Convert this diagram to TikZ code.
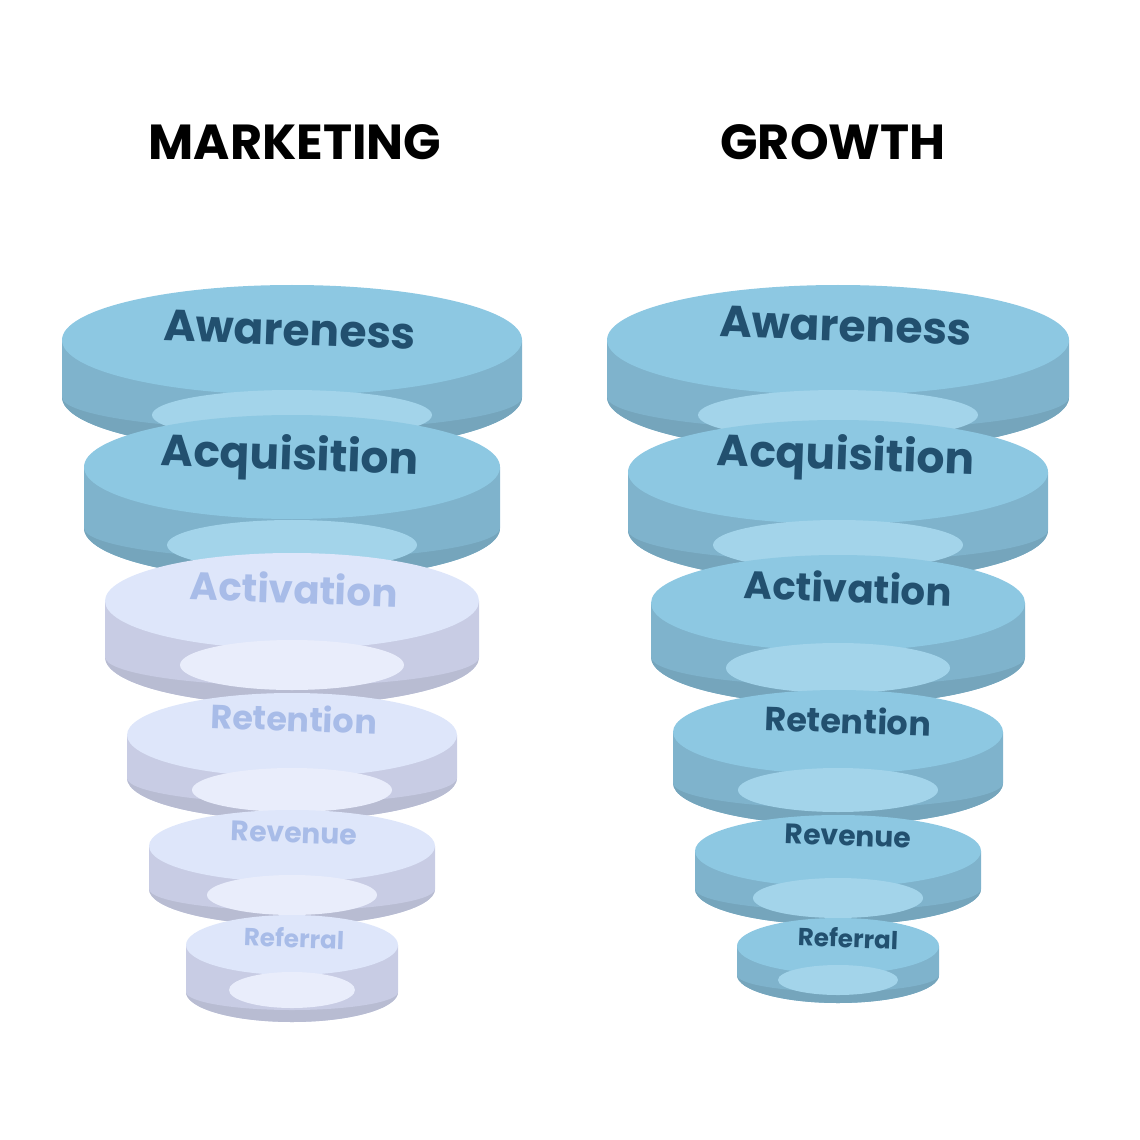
\documentclass[tikz,border=0pt]{standalone}
\usepackage{fontspec}
\setmainfont{Poppins}
\definecolor{btop}{HTML}{8DC8E2}
\definecolor{bside}{HTML}{7FB3CC}
\definecolor{bhole}{HTML}{A3D4EA}
\definecolor{btext}{HTML}{22506F}
\definecolor{ftop}{HTML}{DEE6FA}
\definecolor{fside}{HTML}{C8CCE4}
\definecolor{fhole}{HTML}{E9EDFB}
\definecolor{ftext}{HTML}{A8BCE8}
% #1 cx, #2 a, #3 y0, #4 y1, #5 r, #6 hole y, #7 hole a, #8 hole b, #9 prefix (b/f)
\newcommand\funnelring[9]{%
  \fill[#9side] (#1-#2,#3+#5) -- (#1-#2,#4-#5) arc[start angle=180,end angle=360,x radius=#2,y radius=-#5] -- (#1+#2,#3+#5) -- cycle;
  \fill[#9top] (#1,#3+#5) ellipse[x radius=#2,y radius=#5];
  \fill[#9side!92!black] (#1,#4-#5) ++(-#2,0) arc[start angle=180,end angle=360,x radius=#2,y radius=-#5] -- cycle;
  \fill[#9side] (#1,#4-#5) ++(-#2,0) arc[start angle=180,end angle=0,x radius=#2,y radius=#5*0.6] -- cycle;
  \fill[#9hole] (#1,#6) ellipse[x radius=#7,y radius=#8];
}
\begin{document}
\begin{tikzpicture}[x=0.01cm,y=-0.01cm,
  lbl/.style={font=\bfseries, text=#1},
  ttl/.style={font=\fontsize{14}{16}\selectfont\bfseries}]
\useasboundingbox (0,0) rectangle (1140,1140);
\node[ttl] (t1) at (295,142) {MARKETING};
\node[ttl] (t2) at (833,142) {GROWTH};
% left
\funnelring{292}{230}{285}{452}{55}{415}{140}{25}{b}
\node[lbl=btext,font=\fontsize{12.5}{14}\selectfont\bfseries,rotate=-2] (la) at (290,330) {Awareness};
\funnelring{292}{208}{415}{580}{52}{545}{125}{25}{b}
\node[lbl=btext,font=\fontsize{12.5}{14}\selectfont\bfseries,rotate=-2] (lb) at (290,458) {Acquisition};
\funnelring{292}{187}{553}{705}{48}{665}{112}{25}{f}
\node[lbl=ftext,font=\fontsize{11}{13}\selectfont\bfseries,rotate=-2] (lc) at (294,588) {Activation};
\funnelring{292}{165}{693}{820}{42}{790}{100}{22}{f}
\node[lbl=ftext,font=\fontsize{9.5}{11}\selectfont\bfseries,rotate=-2] (ld) at (294,718) {Retention};
\funnelring{292}{143}{810}{925}{36}{895}{85}{20}{f}
\node[lbl=ftext,font=\fontsize{8}{10}\selectfont\bfseries,rotate=-2] (le) at (294,833) {Revenue};
\funnelring{292}{106}{915}{1022}{30}{990}{63}{18}{f}
\node[lbl=ftext,font=\fontsize{7}{9}\selectfont\bfseries,rotate=-2] (lf) at (294,938) {Referral};
% right
\funnelring{838}{231}{285}{452}{55}{415}{140}{25}{b}
\node[lbl=btext,font=\fontsize{12.5}{14}\selectfont\bfseries,rotate=-2] (ra) at (846,326) {Awareness};
\funnelring{838}{210}{420}{582}{52}{545}{125}{25}{b}
\node[lbl=btext,font=\fontsize{12.5}{14}\selectfont\bfseries,rotate=-2] (rb) at (846,458) {Acquisition};
\funnelring{838}{187}{555}{705}{48}{668}{112}{25}{b}
\node[lbl=btext,font=\fontsize{11}{13}\selectfont\bfseries,rotate=-2] (rc) at (848,587) {Activation};
\funnelring{838}{165}{690}{825}{42}{790}{100}{22}{b}
\node[lbl=btext,font=\fontsize{9.5}{11}\selectfont\bfseries,rotate=-2] (rd) at (848,720) {Retention};
\funnelring{838}{143}{815}{925}{36}{898}{85}{20}{b}
\node[lbl=btext,font=\fontsize{8}{10}\selectfont\bfseries,rotate=-2] (re) at (848,836) {Revenue};
\funnelring{838}{101}{918}{1003}{28}{980}{60}{15}{b}
\node[lbl=btext,font=\fontsize{7}{9}\selectfont\bfseries,rotate=-2] (rf) at (848,938) {Referral};
\end{tikzpicture}
\end{document}
